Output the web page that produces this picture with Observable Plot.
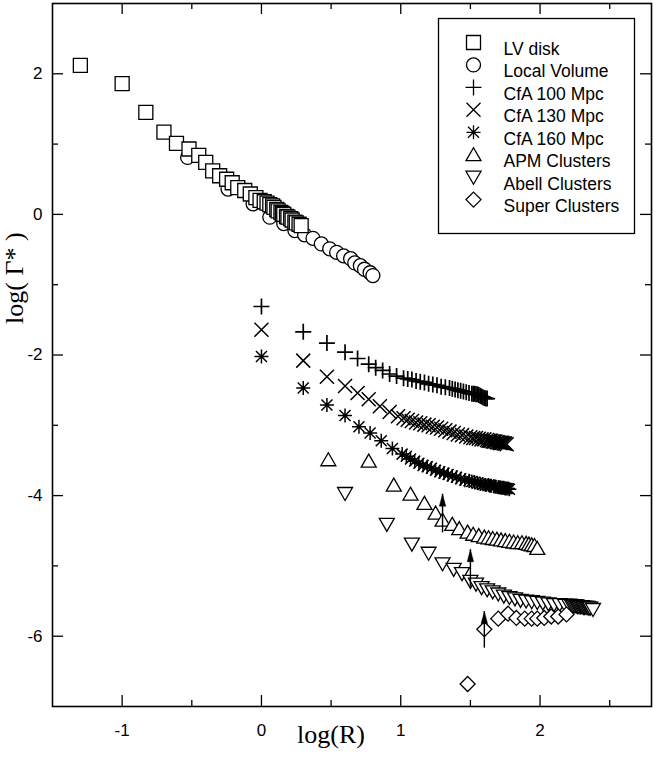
<!DOCTYPE html>
<html><head><meta charset="utf-8">
<script src="https://cdn.jsdelivr.net/npm/d3@7"></script>
<script src="https://cdn.jsdelivr.net/npm/@observablehq/plot@0.6"></script>
<style>body{margin:0;background:#fff}</style>
</head><body><div id="chart"></div>
<script>
// ---- data ----
const lvDisk = [[-1.30,2.12],[-1.00,1.86],[-0.83,1.45],[-0.70,1.17],[-0.61,1.01],[-0.52,0.93],[-0.45,0.84],[-0.40,0.74],[-0.35,0.62],[-0.30,0.55],[-0.25,0.50],[-0.21,0.45],[-0.17,0.38],[-0.12,0.34],[-0.08,0.29],[-0.04,0.24],[-0.01,0.20],[0.02,0.18],[0.04,0.16],[0.06,0.14],[0.08,0.12],[0.09,0.10],[0.11,0.07],[0.12,0.05],[0.14,0.03],[0.15,0.01],[0.16,0.00],[0.18,-0.03],[0.19,-0.04],[0.21,-0.06],[0.22,-0.08],[0.24,-0.11],[0.25,-0.12],[0.27,-0.14],[0.285,-0.16]];
const localVolume = [[-0.53,0.81],[-0.24,0.36],[-0.06,0.15],[0.06,-0.04],[0.16,-0.13],[0.24,-0.23],[0.31,-0.29],[0.37,-0.34],[0.43,-0.42],[0.49,-0.49],[0.54,-0.54],[0.59,-0.59],[0.64,-0.63],[0.67,-0.69],[0.71,-0.73],[0.74,-0.78],[0.78,-0.83],[0.80,-0.87]];
const cfa100 = [[0.00,-1.31],[0.30,-1.67],[0.47,-1.83],[0.60,-1.96],[0.69,-2.05],[0.77,-2.13],[0.82,-2.18],[0.87,-2.22],[0.92,-2.27],[0.97,-2.30],[1.02,-2.33],[1.05,-2.34],[1.08,-2.35],[1.11,-2.37],[1.14,-2.38],[1.17,-2.39],[1.20,-2.41],[1.23,-2.42],[1.26,-2.43],[1.29,-2.45],[1.32,-2.46],[1.35,-2.47],[1.37,-2.48],[1.39,-2.49],[1.41,-2.50],[1.43,-2.51],[1.45,-2.52],[1.47,-2.53],[1.49,-2.54],[1.51,-2.55],[1.52,-2.55],[1.53,-2.55],[1.54,-2.56],[1.55,-2.56],[1.56,-2.57],[1.57,-2.58],[1.58,-2.59],[1.59,-2.60],[1.60,-2.61],[1.61,-2.62],[1.62,-2.62]];
const cfa130 = [[0.00,-1.64],[0.30,-2.08],[0.47,-2.31],[0.60,-2.44],[0.69,-2.54],[0.77,-2.63],[0.85,-2.73],[0.92,-2.81],[0.98,-2.87],[1.02,-2.90],[1.05,-2.92],[1.08,-2.94],[1.11,-2.96],[1.14,-2.97],[1.17,-2.99],[1.20,-3.00],[1.23,-3.02],[1.26,-3.03],[1.29,-3.05],[1.32,-3.07],[1.35,-3.09],[1.38,-3.11],[1.41,-3.13],[1.44,-3.14],[1.47,-3.16],[1.50,-3.17],[1.52,-3.18],[1.54,-3.18],[1.56,-3.19],[1.58,-3.20],[1.60,-3.20],[1.62,-3.21],[1.63,-3.22],[1.64,-3.22],[1.65,-3.22],[1.66,-3.23],[1.67,-3.23],[1.68,-3.23],[1.69,-3.24],[1.70,-3.24],[1.71,-3.25],[1.72,-3.25],[1.73,-3.25],[1.74,-3.26],[1.75,-3.26],[1.76,-3.27]];
const cfa160 = [[0.00,-2.02],[0.30,-2.47],[0.47,-2.71],[0.60,-2.86],[0.70,-3.02],[0.78,-3.11],[0.86,-3.22],[0.94,-3.33],[1.01,-3.41],[1.04,-3.44],[1.07,-3.48],[1.10,-3.51],[1.13,-3.54],[1.16,-3.57],[1.19,-3.59],[1.22,-3.61],[1.25,-3.64],[1.28,-3.66],[1.31,-3.68],[1.34,-3.70],[1.37,-3.72],[1.40,-3.74],[1.43,-3.76],[1.46,-3.78],[1.49,-3.79],[1.51,-3.80],[1.53,-3.81],[1.55,-3.82],[1.57,-3.83],[1.59,-3.84],[1.61,-3.85],[1.63,-3.85],[1.64,-3.86],[1.65,-3.86],[1.67,-3.87],[1.68,-3.87],[1.70,-3.88],[1.71,-3.88],[1.72,-3.89],[1.73,-3.89],[1.74,-3.89],[1.75,-3.90],[1.76,-3.90],[1.77,-3.90],[1.78,-3.91]];
const apmClusters = [[0.48,-3.49],[0.77,-3.51],[0.95,-3.85],[1.07,-3.98],[1.17,-4.11],[1.25,-4.25],[1.30,-4.35],[1.37,-4.41],[1.42,-4.47],[1.48,-4.52],[1.52,-4.55],[1.56,-4.57],[1.60,-4.59],[1.63,-4.60],[1.66,-4.61],[1.69,-4.62],[1.72,-4.63],[1.75,-4.64],[1.78,-4.65],[1.81,-4.66],[1.84,-4.67],[1.87,-4.67],[1.90,-4.68],[1.92,-4.69],[1.94,-4.70],[1.96,-4.71],[1.98,-4.75]];
const abellClusters = [[0.60,-3.97],[0.90,-4.41],[1.08,-4.69],[1.20,-4.82],[1.30,-4.97],[1.38,-5.05],[1.44,-5.11],[1.50,-5.22],[1.54,-5.26],[1.58,-5.31],[1.62,-5.34],[1.66,-5.37],[1.70,-5.40],[1.74,-5.43],[1.78,-5.45],[1.82,-5.47],[1.86,-5.49],[1.90,-5.50],[1.94,-5.51],[1.98,-5.52],[2.02,-5.53],[2.06,-5.54],[2.10,-5.55],[2.14,-5.55],[2.18,-5.56],[2.21,-5.56],[2.23,-5.57],[2.24,-5.57],[2.25,-5.57],[2.26,-5.57],[2.27,-5.58],[2.28,-5.58],[2.29,-5.58],[2.30,-5.58],[2.31,-5.59],[2.32,-5.59],[2.33,-5.59],[2.34,-5.59],[2.35,-5.60],[2.36,-5.60],[2.38,-5.62]];
const superClusters = [[1.48,-6.68],[1.60,-5.90],[1.70,-5.75],[1.77,-5.68],[1.83,-5.74],[1.89,-5.75],[1.94,-5.75],[1.98,-5.75],[2.03,-5.74],[2.08,-5.72],[2.13,-5.72],[2.19,-5.69]];
const arrowX = [1.30, 1.50, 1.60];
const arrowLow = [-4.53, -5.30, -6.17];
const arrowHigh = [-3.98, -4.77, -5.65];
const legendLabels = ["LV disk","Local Volume","CfA 100 Mpc","CfA 130 Mpc","CfA 160 Mpc","APM Clusters","Abell Clusters","Super Clusters"];
const xMajor = [-1, 0, 1, 2];
const xMinor = [-0.5, 0.5, 1.5, 2.5];
const yMajor = [-6, -4, -2, 0, 2];
const yMinor = [-5, -3, -1, 1];

// ---- symbols ----
const symSquare = {draw(c){ c.rect(-7,-7,14,14); }};
const symCircle = {draw(c){ c.moveTo(7,0); c.arc(0,0,7,0,2*Math.PI); c.closePath(); }};
const symPlus = {draw(c){ c.moveTo(-8,0); c.lineTo(8,0); c.moveTo(0,-8); c.lineTo(0,8); }};
const symTimes = {draw(c){ c.moveTo(-7,-7); c.lineTo(7,7); c.moveTo(7,-7); c.lineTo(-7,7); }};
const symAster = {draw(c){ c.moveTo(0,-7); c.lineTo(0,7); c.moveTo(-7,0); c.lineTo(7,0); c.moveTo(-5.5,-5.5); c.lineTo(5.5,5.5); c.moveTo(5.5,-5.5); c.lineTo(-5.5,5.5); }};
const symTriUp = {draw(c){ c.moveTo(0,-7); c.lineTo(7.5,6); c.lineTo(-7.5,6); c.closePath(); }};
const symTriDown = {draw(c){ c.moveTo(0,7); c.lineTo(7.5,-6); c.lineTo(-7.5,-6); c.closePath(); }};
const symDiamond = {draw(c){ c.moveTo(0,-7.5); c.lineTo(7.5,0); c.lineTo(0,7.5); c.lineTo(-7.5,0); c.closePath(); }};
const symHead = {draw(c){ c.moveTo(0,0); c.lineTo(3.2,12); c.lineTo(-3.2,12); c.closePath(); }};

const series = [
  {data: lvDisk, sym: symSquare, fill: "white", sw: 1.3},
  {data: localVolume, sym: symCircle, fill: "white", sw: 1.3},
  {data: cfa100, sym: symPlus, fill: "none", sw: 1.7},
  {data: cfa130, sym: symTimes, fill: "none", sw: 1.5},
  {data: cfa160, sym: symAster, fill: "none", sw: 1.5},
  {data: apmClusters, sym: symTriUp, fill: "white", sw: 1.3},
  {data: abellClusters, sym: symTriDown, fill: "white", sw: 1.3},
  {data: superClusters, sym: symDiamond, fill: "white", sw: 1.3}
];
const drawOrder = [1, 0, 2, 3, 4, 5, 6, 7];
const arrows = arrowX.map((x, i) => ({x, lo: arrowLow[i], hi: arrowHigh[i]}));

const W = 654, H = 758, mT = 3, mR = 3, mB = 52, mL = 52;
const pw = W - mL - mR, ph = H - mT - mB;
const sw = 1.3;
const serif = "'Liberation Serif', 'Times New Roman', serif";

const marks = [];
for (const i of drawOrder) {
  const s = series[i];
  marks.push(Plot.dot(s.data, {x: d => d[0], y: d => d[1], symbol: s.sym, r: 5, fill: s.fill, stroke: "black", strokeWidth: s.sw}));
}
marks.push(Plot.ruleX(arrows, {x: "x", y1: "lo", y2: "hi", stroke: "black", strokeWidth: 1.4}));
marks.push(Plot.dot(arrows, {x: "x", y: "hi", symbol: symHead, r: 5, fill: "black", stroke: "black", strokeWidth: 0.5}));

// ticks (inward, all four sides)
marks.push(Plot.tickX(xMajor, {x: d => d, insetTop: ph - 11, stroke: "black", strokeWidth: sw}));
marks.push(Plot.tickX(xMajor, {x: d => d, insetBottom: ph - 11, stroke: "black", strokeWidth: sw}));
marks.push(Plot.tickX(xMinor, {x: d => d, insetTop: ph - 6, stroke: "black", strokeWidth: sw}));
marks.push(Plot.tickX(xMinor, {x: d => d, insetBottom: ph - 6, stroke: "black", strokeWidth: sw}));
marks.push(Plot.tickY(yMajor, {y: d => d, insetRight: pw - 11, stroke: "black", strokeWidth: sw}));
marks.push(Plot.tickY(yMajor, {y: d => d, insetLeft: pw - 11, stroke: "black", strokeWidth: sw}));
marks.push(Plot.tickY(yMinor, {y: d => d, insetRight: pw - 6, stroke: "black", strokeWidth: sw}));
marks.push(Plot.tickY(yMinor, {y: d => d, insetLeft: pw - 6, stroke: "black", strokeWidth: sw}));

marks.push(Plot.axisX(xMajor, {tickSize: 0, tickPadding: 17, tickFormat: d => String(d), label: null}));
marks.push(Plot.axisY(yMajor, {tickSize: 0, tickPadding: 10, tickFormat: d => String(d), label: null}));

marks.push(Plot.frame({stroke: "black", strokeWidth: 1.6}));

// axis titles
marks.push(Plot.text(["log(R)"], {text: d => d, frameAnchor: "bottom", dx: -21, dy: 36, fontSize: 26, fontFamily: serif}));
marks.push(Plot.text(["log( Γ* )"], {text: d => d, frameAnchor: "left", dx: -38, dy: -31, rotate: -90, fontSize: 26, fontFamily: serif}));

// legend
marks.push(Plot.frame({insetLeft: 438 - mL, insetRight: W - mR - 634, insetTop: 18 - mT, insetBottom: H - mB - 233, fill: "white", stroke: "black", strokeWidth: 1.3}));
const rowY = [42, 64.4, 86.9, 109.3, 131.8, 154.2, 176.7, 199.1];
series.forEach((s, i) => {
  marks.push(Plot.dot([0], {frameAnchor: "top-left", dx: 473 - mL, dy: rowY[i] - mT, symbol: s.sym, r: 5, fill: s.fill, stroke: "black", strokeWidth: 1.3}));
  marks.push(Plot.text([legendLabels[i]], {text: d => d, frameAnchor: "top-left", dx: 503 - mL, dy: rowY[i] - mT, textAnchor: "start", fontSize: 17.5}));
});

const chart = Plot.plot({
  width: W, height: H,
  marginTop: mT, marginRight: mR, marginBottom: mB, marginLeft: mL,
  x: {domain: [-1.5, 2.8]},
  y: {domain: [-7, 3]},
  style: {fontFamily: "'Liberation Sans', Arial, sans-serif", fontSize: "17px", background: "white", color: "black"},
  marks
});
document.getElementById("chart").appendChild(chart);
</script></body></html>
